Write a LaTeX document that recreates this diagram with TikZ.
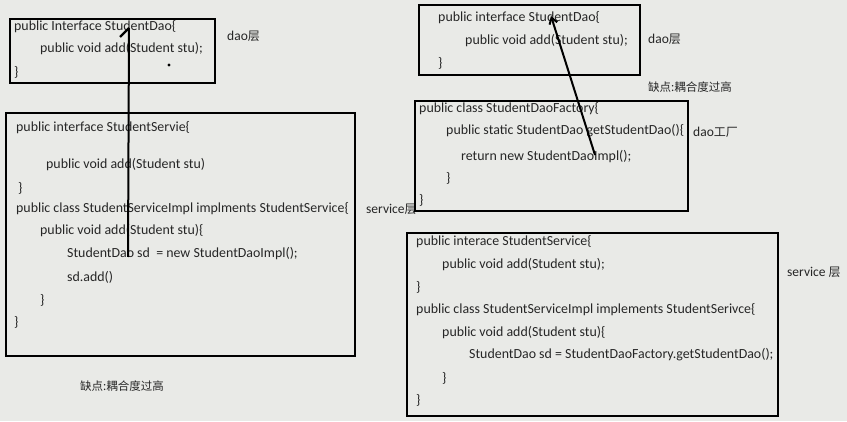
\documentclass[tikz,border=0pt]{standalone}
\usepackage{fontspec}
\setmainfont{Carlito}
\newfontfamily\cjk{Noto Sans CJK SC}
\usetikzlibrary{arrows.meta}
\definecolor{bgc}{HTML}{E9EAE7}
\definecolor{txt}{HTML}{262626}
\begin{document}
\begin{tikzpicture}[x=1pt,y=1pt,
  code/.style={anchor=west,inner sep=0pt,text=txt,font=\fontsize{13.9}{15}\selectfont},
  lbl/.style={anchor=west,inner sep=0pt,text=txt,font=\fontsize{13.5}{15}\selectfont},
  box/.style={draw=black,line width=2.6pt},
  conn/.style={draw=black,line width=2pt}]
\fill[bgc] (0,0) rectangle (847,421);
\useasboundingbox (0,0) rectangle (847,421);
% ---- left dao box
\draw[box] (10,338) rectangle (215,402);
\node[code] (l1) at (14,394) {public Interface StudentDao\{};
\node[code] (l2) at (40,372) {public void add(Student stu);};
\node[code] (l3) at (14,349) {\}};
\fill[black] (169,356) circle (1.6);
\node[lbl] (ldao) at (227,385) {dao{\cjk\fontsize{12}{14}\selectfont 层}};
% ---- left service box
\draw[box] (6,65) rectangle (355,308);
\node[code] (s1) at (16,293) {public interface StudentServie\{};
\node[code] (s2) at (46,256) {public void add(Student stu)};
\node[code] (s3) at (18,233) {\}};
\node[code] (s4) at (16,212) {public class StudentServiceImpl implments StudentService\{};
\node[code] (s5) at (40,190) {public void add(Student stu)\{};
\node[code] (s6) at (67,167) {StudentDao sd \ = new StudentDaoImpl();};
\node[code] (s7) at (67,144) {sd.add()};
\node[code] (s8) at (40,121) {\}};
\node[code] (s9) at (14,99) {\}};
\node[lbl] (lsvc) at (366,212) {service{\cjk\fontsize{12}{14}\selectfont 层}};
\node[lbl,font=\cjk\fontsize{11.5}{14}\selectfont] (lbad) at (80,35) {缺点:耦合度过高};
% left connector
\coordinate (la) at (128,164);
\coordinate (lb) at (129,393);
\draw[conn] (la) -- (lb);
\draw[black,line width=2.4pt] (120,384) -- (lb);
% ---- right dao box
\draw[box] (419,346) rectangle (640,416);
\node[code] (r1) at (438,403) {public interface StudentDao\{};
\node[code] (r2) at (465,380) {public void add(Student stu);};
\node[code] (r3) at (438,358) {\}};
\node[lbl] (rdao) at (648,382) {dao{\cjk\fontsize{12}{14}\selectfont 层}};
\node[lbl,font=\cjk\fontsize{11.5}{14}\selectfont] (rbad) at (648,334) {缺点:耦合度过高};
% ---- factory box
\draw[box] (415,210) rectangle (688,320);
\node[code] (f1) at (419,312) {public class StudentDaoFactory\{};
\node[code] (f2) at (446,290) {public static StudentDao getStudentDao()\{};
\node[code] (f3) at (461,264) {return new StudentDaoImpl();};
\node[code] (f4) at (446,243) {\}};
\node[code] (f5) at (419,221) {\}};
\node[lbl] (rfac) at (693,289) {dao{\cjk\fontsize{12}{14}\selectfont 工厂}};
% right connector
\coordinate (ra) at (595,266);
\coordinate (rb) at (551,405);
\draw[conn,-{Straight Barb[length=6pt,width=8pt]}] (ra) -- (rb);
% ---- right service box
\draw[box] (407,5) rectangle (778,188);
\node[code] (t1) at (416,179) {public interace StudentService\{};
\node[code] (t2) at (442,156) {public void add(Student stu);};
\node[code] (t3) at (416,134) {\}};
\node[code] (t4) at (416,111) {public class StudentServiceImpl implements StudentSerivce\{};
\node[code] (t5) at (442,88) {public void add(Student stu)\{};
\node[code] (t6) at (469,66) {StudentDao sd = StudentDaoFactory.getStudentDao();};
\node[code] (t7) at (442,43) {\}};
\node[code] (t8) at (416,21) {\}};
\node[lbl] (rsvc) at (787,149) {service {\cjk\fontsize{12}{14}\selectfont 层}};
\end{tikzpicture}
\end{document}
